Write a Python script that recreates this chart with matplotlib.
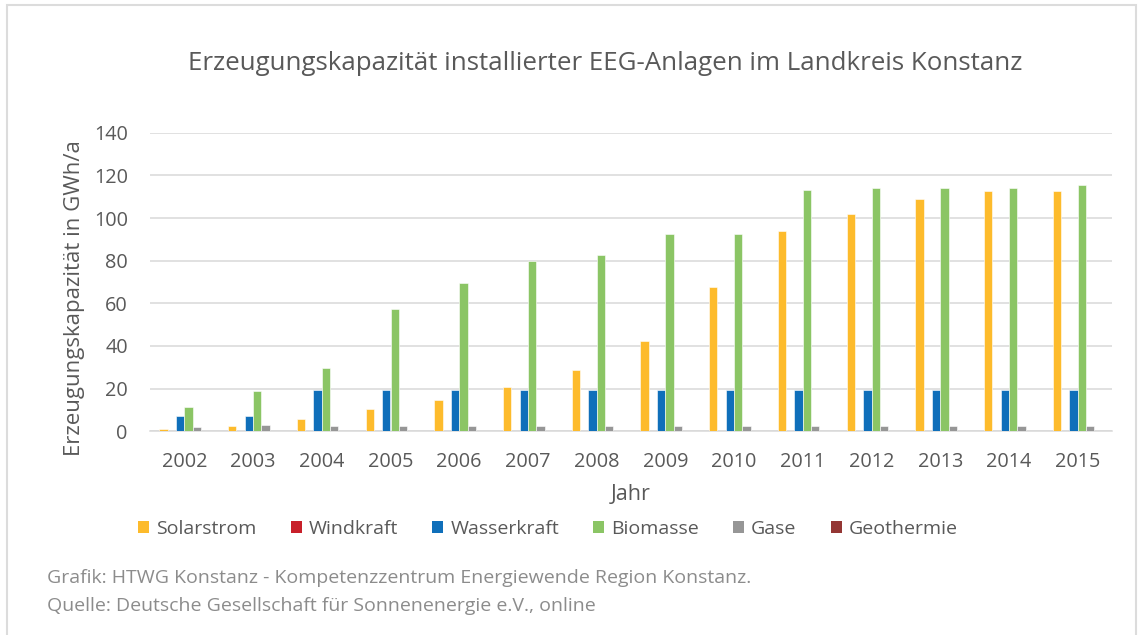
import matplotlib
matplotlib.use("Agg")
import matplotlib.pyplot as plt
import numpy as np
from matplotlib.patches import Rectangle, Patch

years = ["2002", "2003", "2004", "2005", "2006", "2007", "2008",
         "2009", "2010", "2011", "2012", "2013", "2014", "2015"]
solarstrom = [0.9, 2.3, 5.9, 10.5, 14.8, 20.6, 28.9, 42.2, 67.8, 93.9, 102.0, 108.8, 112.5, 112.5]
windkraft = [0, 0, 0, 0, 0, 0, 0, 0, 0, 0, 0, 0, 0, 0]
wasserkraft = [7.3, 7.3, 19.2, 19.2, 19.2, 19.2, 19.2, 19.2, 19.2, 19.2, 19.2, 19.2, 19.2, 19.2]
biomasse = [11.3, 19.0, 29.5, 57.3, 69.4, 79.8, 82.7, 92.4, 92.4, 113.0, 114.2, 114.2, 114.2, 115.5]
gase = [2.2, 2.9, 2.7, 2.7, 2.7, 2.7, 2.7, 2.7, 2.7, 2.7, 2.7, 2.7, 2.7, 2.7]
geothermie = [0, 0, 0, 0, 0, 0, 0, 0, 0, 0, 0, 0, 0, 0]

series_names = ["Solarstrom", "Windkraft", "Wasserkraft", "Biomasse", "Gase", "Geothermie"]
series_values = [solarstrom, windkraft, wasserkraft, biomasse, gase, geothermie]
colors = ["#FDBB2C", "#C8202A", "#0F6FBA", "#8BC565", "#969696", "#943634"]

title = "Erzeugungskapazität installierter EEG-Anlagen im Landkreis Konstanz"
ylabel = "Erzeugungskapazität in GWh/a"
xlabel = "Jahr"
footer1 = "Grafik: HTWG Konstanz - Kompetenzzentrum Energiewende Region Konstanz."
footer2 = "Quelle: Deutsche Gesellschaft für Sonnenenergie e.V., online"

plt.rcParams['font.family'] = ['Open Sans', 'DejaVu Sans']
txt = "#595959"

fig = plt.figure(figsize=(11.39, 6.35), dpi=100)
W, H = 1139, 635
ax = fig.add_axes([150 / W, 1 - 431.3 / H, (1112 - 150) / W, (431.3 - 132.7) / H])

x = np.arange(len(years))
bw = 0.121
for i, (name, vals, c) in enumerate(zip(series_names, series_values, colors)):
    ax.bar(x + (i - 2.5) * bw, vals, width=bw, color=c, label=name,
           edgecolor="white", linewidth=0.4, zorder=3)

ax.set_xlim(-0.5, len(years) - 0.5)
ax.set_ylim(0, 140)
ax.set_yticks(np.arange(0, 141, 20))
ax.set_xticks(x)
ax.set_xticklabels(years)
ax.grid(axis="y", color="#d9d9d9", linewidth=1.1, zorder=0)
ax.set_axisbelow(True)
for s in ["top", "right", "left"]:
    ax.spines[s].set_visible(False)
ax.spines["bottom"].set_color("#d9d9d9")
ax.spines["bottom"].set_linewidth(1.1)
ax.tick_params(axis="both", length=0, labelsize=14.3, labelcolor=txt)
ax.tick_params(axis="y", pad=16)
ax.tick_params(axis="x", pad=15)

fig.text(605 / W, 1 - 63 / H, title, ha="center", va="center", fontsize=18.6, color=txt)
fig.text(75 / W, 1 - 298 / H, ylabel, ha="center", va="center", rotation=90, fontsize=16, color=txt)
fig.text(631 / W, 1 - 495 / H, xlabel, ha="center", va="center", fontsize=15.5, color=txt)

handles = [Patch(facecolor=c, edgecolor="none") for c in colors]
fig.legend(handles, series_names, loc="center", bbox_to_anchor=(548 / W, 1 - 529 / H),
           ncol=6, frameon=False, fontsize=14, handlelength=0.57, handleheight=0.57,
           handletextpad=0.36, columnspacing=1.75, labelcolor=txt)

fig.text(47 / W, 1 - 578 / H, footer1, ha="left", va="center", fontsize=14, color="#8c8c8c")
fig.text(47 / W, 1 - 606 / H, footer2, ha="left", va="center", fontsize=14, color="#8c8c8c")

fig.patches.append(Rectangle((6.5 / W, -0.05), (1136 - 6.5) / W, 1.05 - 5.5 / H,
                             transform=fig.transFigure, fill=False,
                             edgecolor="#dcdcdc", linewidth=1.5))

fig.savefig("out.png", dpi=100, facecolor="white")
